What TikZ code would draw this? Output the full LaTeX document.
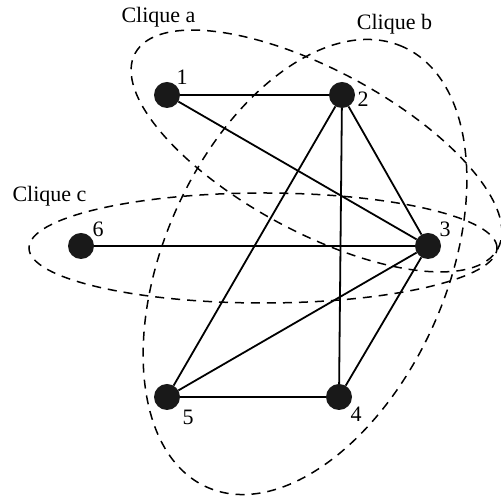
\documentclass[tikz,border=0pt]{standalone}
\usepackage{fontspec}
\setmainfont{Liberation Serif}
\usepackage{tikz}
\usetikzlibrary{calc}

\begin{document}
\begin{tikzpicture}[
    x=1pt,y=1pt,
    vertex/.style={circle,fill=black!90,minimum size=26pt,inner sep=0pt},
    lbl/.style={inner sep=0pt,font=\fontsize{22}{24}\selectfont},
    clique/.style={dash pattern=on 9pt off 7pt,line width=1.5pt},
    edge/.style={line width=1.8pt}
  ]
    \useasboundingbox (0,0) rectangle (501,497);
    % vertices
    \node[vertex] (v1) at (167,402) {};
    \node[vertex] (v2) at (342,402) {};
    \node[vertex] (v3) at (428,251) {};
    \node[vertex] (v4) at (339,100) {};
    \node[vertex] (v5) at (167,100) {};
    \node[vertex] (v6) at (81,251) {};
    \node[lbl] (t1) at ($(v1)+(15,18)$) {1};
    \node[lbl] (t2) at ($(v2)+(21,-4)$) {2};
    \node[lbl] (t3) at ($(v3)+(17,17)$) {3};
    \node[lbl] (t4) at ($(v4)+(17,-17)$) {4};
    \node[lbl] (t5) at ($(v5)+(21,-20)$) {5};
    \node[lbl] (t6) at ($(v6)+(17,17)$) {6};
    % edges
    \draw[edge] (v1) -- (v2);
    \draw[edge] (v1) -- (v3);
    \draw[edge] (v2) -- (v3);
    \draw[edge] (v2) -- (v4);
    \draw[edge] (v2) -- (v5);
    \draw[edge] (v3) -- (v4);
    \draw[edge] (v3) -- (v5);
    \draw[edge] (v3) -- (v6);
    \draw[edge] (v4) -- (v5);
    % cliques
    \draw[clique,rotate around={-28.3:(316.5,346)}] (316.5,346) ellipse [x radius=206pt,y radius=81pt];
    \draw[clique,rotate around={66:(305,230)}] (305,230) ellipse [x radius=241pt,y radius=141pt];
    \draw[clique] (263,249) ellipse [x radius=234pt,y radius=55pt];
    \node[lbl] (ca) at (158.5,479.5) {Clique a};
    \node[lbl] (cb) at (394.5,473) {Clique b};
    \node[lbl] (cc) at (49.5,301) {Clique c};
  \end{tikzpicture}
\end{document}
